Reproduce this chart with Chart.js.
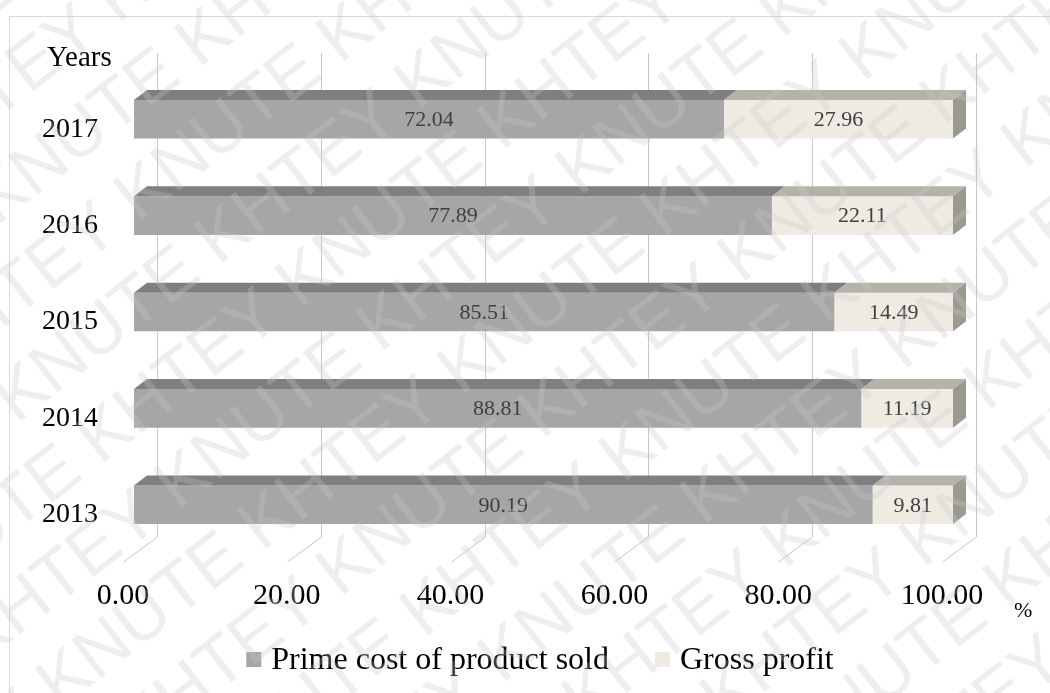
<!DOCTYPE html>
<html>
<head>
<meta charset="utf-8">
<title>Prime cost and gross profit</title>
<script src="https://cdn.jsdelivr.net/npm/chart.js@4.4.1/dist/chart.umd.min.js"></script>
<style>
  html, body { margin: 0; padding: 0; background: #fff; }
  #wrap { width: 1050px; height: 693px; position: relative; }
</style>
</head>
<body>
<div id="wrap"><canvas id="myChart"></canvas></div>
<script>
// shares of revenue, %
const years = ['2013', '2014', '2015', '2016', '2017'];
const primeCost = [90.19, 88.81, 85.51, 77.89, 72.04];
const grossProfit = [9.81, 11.19, 14.49, 22.11, 27.96];
const seriesNames = ['Prime cost of product sold', 'Gross profit'];
const xTicks = [0, 20, 40, 60, 80, 100];

const SERIF = '"Liberation Serif", "Times New Roman", serif';

// 3d look: bar depth and how far the back wall sits
const DX = 13, DY = 10;
const WALL_DX = 23, FLOOR_DX = -11;

const faces = [
    { front: '#a6a6a6', top: '#7f7f7f', side: '#8c8c8c' },
    { front: '#eeece2', top: '#b5b2ab', side: '#9b9a91' }
];

const frame = {
    id: 'frame',
    beforeDraw(chart) {
        const ctx = chart.ctx;
        ctx.save();
        ctx.fillStyle = '#fff';
        ctx.fillRect(0, 0, chart.width, chart.height);
        ctx.strokeStyle = '#d9d9d9';
        ctx.lineWidth = 1;
        ctx.strokeRect(9.5, 16.5, 1200, 800);
        ctx.restore();
    }
};

// back wall gridlines plus the floor lines running to the front
const walls = {
    id: 'walls',
    beforeDatasetsDraw(chart) {
        const { ctx, chartArea, scales } = chart;
        const top = chartArea.top - 18, bottom = chartArea.bottom - 16, front = chartArea.bottom + 9;
        ctx.save();
        ctx.strokeStyle = '#c8c8c8';
        ctx.lineWidth = 1;
        scales.x.ticks.forEach(t => {
            const px = Math.round(scales.x.getPixelForValue(t.value)) + 0.5;
            ctx.beginPath();
            ctx.moveTo(px + WALL_DX, top);
            ctx.lineTo(px + WALL_DX, bottom);
            ctx.lineTo(px + FLOOR_DX, front);
            ctx.stroke();
        });
        ctx.restore();
    }
};

const boxes = {
    id: 'boxes',
    afterDatasetsDraw(chart) {
        const ctx = chart.ctx;
        const last = chart.data.datasets.length - 1;
        ctx.save();
        chart.data.datasets.forEach((ds, i) => {
            const meta = chart.getDatasetMeta(i);
            meta.data.forEach(bar => {
                const { x, y, base, height } = bar.getProps(['x', 'y', 'base', 'height'], true);
                const top = y - height / 2;
                ctx.fillStyle = faces[i].top;
                ctx.beginPath();
                ctx.moveTo(base, top);
                ctx.lineTo(base + DX, top - DY);
                ctx.lineTo(x + DX, top - DY);
                ctx.lineTo(x, top);
                ctx.closePath();
                ctx.fill();
                if (i === last) {
                    ctx.fillStyle = faces[i].side;
                    ctx.beginPath();
                    ctx.moveTo(x, top);
                    ctx.lineTo(x + DX, top - DY);
                    ctx.lineTo(x + DX, top - DY + height);
                    ctx.lineTo(x, top + height);
                    ctx.closePath();
                    ctx.fill();
                }
            });
        });
        // values in the middle of each segment
        ctx.fillStyle = '#404040';
        ctx.font = '22px ' + SERIF;
        ctx.textAlign = 'center';
        ctx.textBaseline = 'middle';
        chart.data.datasets.forEach((ds, i) => {
            chart.getDatasetMeta(i).data.forEach((bar, j) => {
                const { x, y, base } = bar.getProps(['x', 'y', 'base'], true);
                ctx.fillText(ds.data[j].toFixed(2), (x + base) / 2, y + 1);
            });
        });
        ctx.restore();
    }
};

const extras = {
    id: 'extras',
    afterDraw(chart) {
        const ctx = chart.ctx;
        ctx.save();
        ctx.fillStyle = '#000';
        ctx.textBaseline = 'alphabetic';
        ctx.textAlign = 'left';
        ctx.font = '29px ' + SERIF;
        ctx.fillText('Years', 47, 66);
        ctx.font = '22px ' + SERIF;
        ctx.fillText('%', 1014, 617);

        // legend
        ctx.font = '32px ' + SERIF;
        const box = 15, gap = 10, itemGap = 46;
        const widths = seriesNames.map(n => ctx.measureText(n).width);
        const total = widths.reduce((a, w) => a + box + gap + w, 0) + itemGap;
        let lx = 540 - total / 2;
        seriesNames.forEach((name, i) => {
            ctx.fillStyle = faces[i].front;
            ctx.fillRect(lx, 652, box, box);
            ctx.fillStyle = '#000';
            ctx.fillText(name, lx + box + gap, 669);
            lx += box + gap + widths[i] + itemGap;
        });

        // KNUTE watermark over the whole image
        ctx.translate(chart.width / 2, chart.height / 2);
        ctx.rotate(-38 * Math.PI / 180);
        ctx.font = '70px "Liberation Sans", sans-serif';
        ctx.fillStyle = 'rgba(200, 200, 200, 0.3)';
        const row = 'KHTEY KNUTE KHTEY KNUTE KHTEY KNUTE KHTEY KNUTE ';
        for (let r = -9; r <= 9; r++) {
            ctx.fillText(r % 2 ? row : 'KNUTE KHTEY KNUTE KHTEY KNUTE KHTEY KNUTE KHTEY ', -1100 + (r * 37) % 180, r * 84);
        }
        ctx.restore();
    }
};

const ctx = document.getElementById('myChart').getContext('2d');
const chart = new Chart(ctx, {
    type: 'bar',
    data: {
        labels: years,
        datasets: [
            {
                label: seriesNames[0],
                data: primeCost,
                backgroundColor: faces[0].front,
                borderWidth: 0
            },
            {
                label: seriesNames[1],
                data: grossProfit,
                backgroundColor: faces[1].front,
                borderWidth: 0
            }
        ]
    },
    options: {
        indexAxis: 'y',
        responsive: true,
        maintainAspectRatio: false,
        animation: false,
        categoryPercentage: 1,
        barPercentage: 0.4,
        layout: { padding: { top: 71, right: 97, bottom: 0, left: 0 } },
        plugins: {
            legend: { display: false },
            tooltip: { enabled: false }
        },
        scales: {
            x: {
                stacked: true,
                min: 0,
                max: 100,
                afterBuildTicks(scale) {
                    scale.ticks = xTicks.map(v => ({ value: v }));
                },
                afterFit(scale) {
                    scale.height = 140;
                },
                grid: { display: false },
                border: { display: false },
                ticks: {
                    color: '#000',
                    font: { family: SERIF, size: 30 },
                    padding: 17,
                    labelOffset: FLOOR_DX,
                    maxRotation: 0,
                    callback: v => Number(v).toFixed(2)
                }
            },
            y: {
                stacked: true,
                reverse: true,
                afterFit(scale) {
                    scale.width = 134;
                },
                grid: { display: false },
                border: { display: false },
                ticks: {
                    color: '#000',
                    font: { family: SERIF, size: 28 },
                    padding: 28,
                    labelOffset: 10
                }
            }
        }
    },
    plugins: [frame, walls, boxes, extras]
});
console.log('Loaded');
</script>
</body>
</html>
